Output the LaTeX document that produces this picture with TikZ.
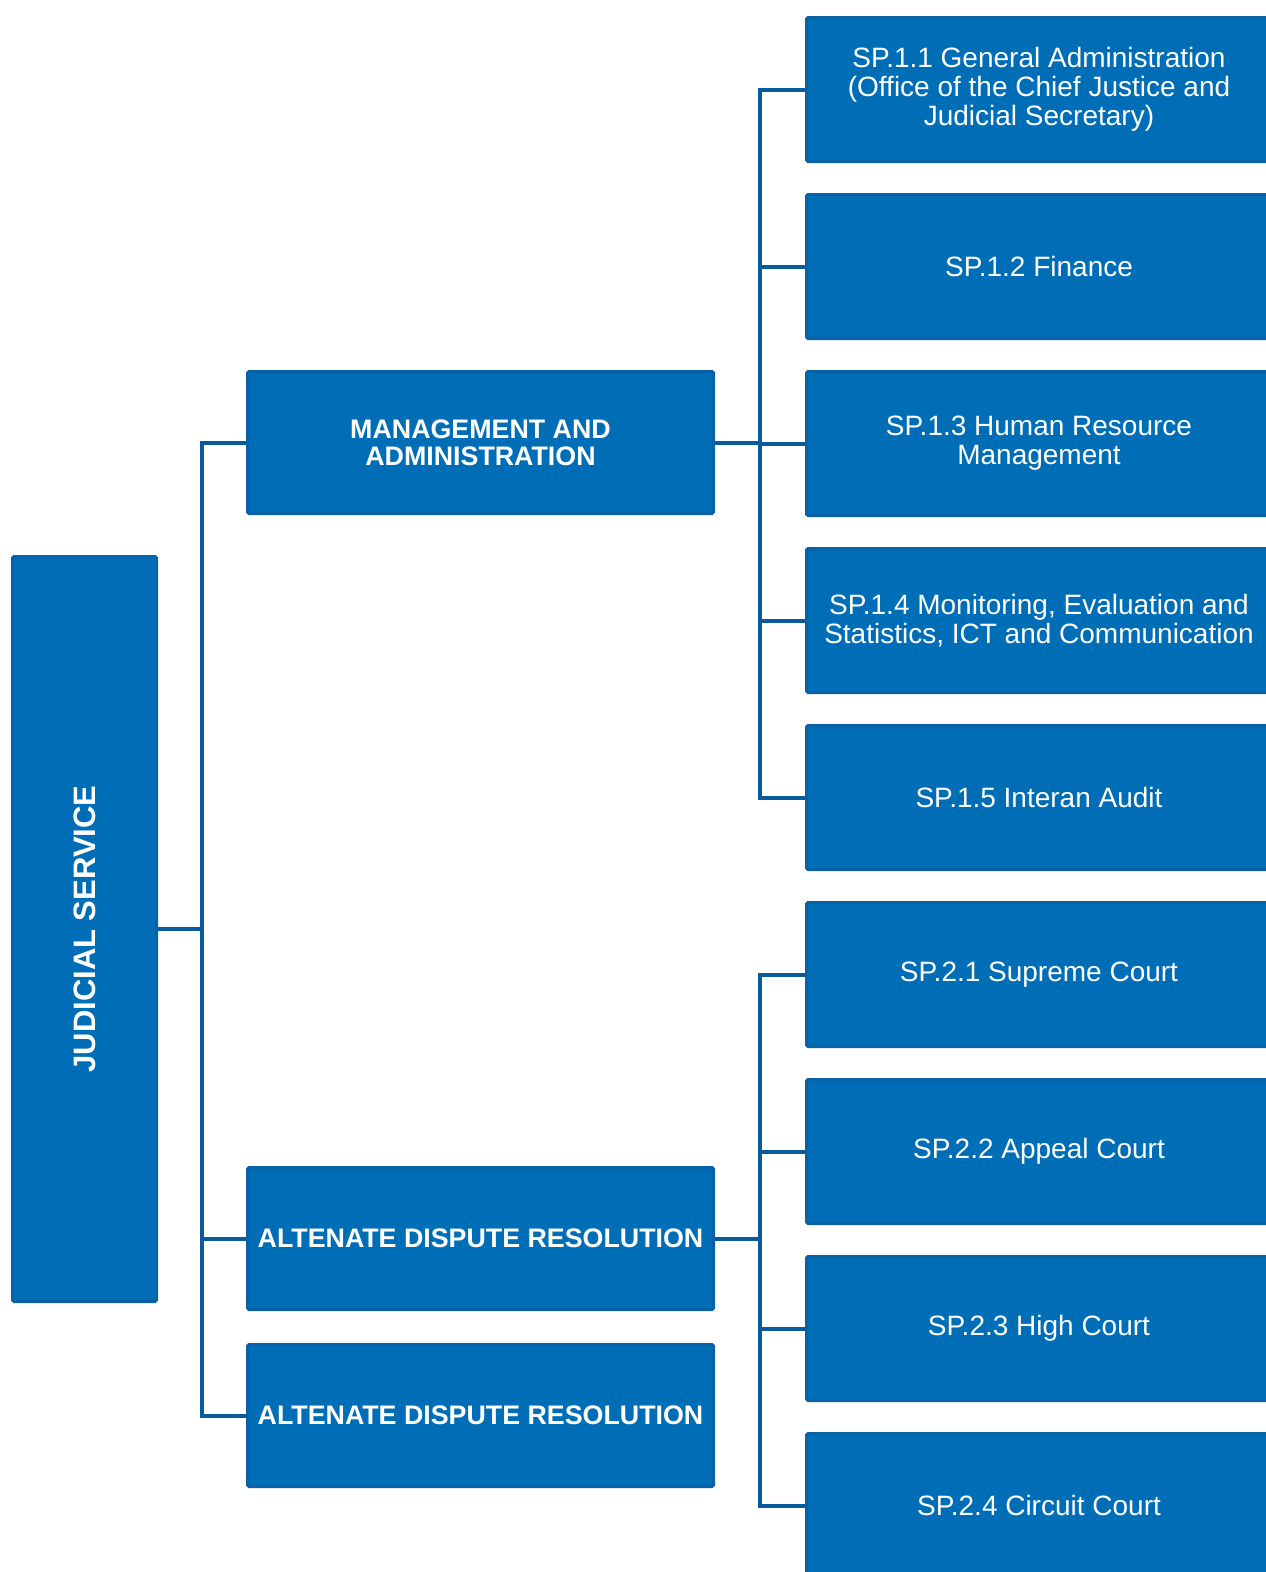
\documentclass[tikz,border=0pt]{standalone}
\usepackage{fontspec}
\setmainfont{Liberation Sans}
\usepackage{tikz}
\usetikzlibrary{arrows.meta}
\definecolor{boxblue}{HTML}{006EB7}
\definecolor{edgeblue}{HTML}{0A62A6}
\definecolor{lineblue}{HTML}{0A5B9C}
\tikzset{x=1pt,y=-1pt,
	box/.style={draw=edgeblue,fill=boxblue,line width=3pt,rounded corners=1.5pt,
		text=white,align=center,inner sep=2pt},
	subbox/.style={box,minimum width=465pt,minimum height=144pt,
		font=\fontsize{28}{29}\selectfont},
	progbox/.style={box,minimum width=466pt,minimum height=142pt,
		font=\bfseries\fontsize{26.8}{27}\selectfont},
	rootbox/.style={box,minimum width=144pt,minimum height=745pt,
		font=\bfseries\fontsize{31}{32}\selectfont},
	link/.style={draw=lineblue,line width=4pt}}

\begin{document}
\begin{tikzpicture}
		\clip (0,0) rectangle (1266,1572);
		\fill[white] (0,0) rectangle (1266,1572);
		\begin{scope}[every node/.style={rootbox}]
			\node (root) at (84.5,929) {\rotatebox{90}{JUDICIAL SERVICE}};
		\end{scope}
		\begin{scope}[every node/.style={progbox}]
			\node (ma) at (480.5,442.5) {MANAGEMENT AND\\ADMINISTRATION};
			\node (adr1) at (480.5,1238.5) {ALTENATE DISPUTE RESOLUTION};
			\node (adr2) at (480.5,1415.5) {ALTENATE DISPUTE RESOLUTION};
		\end{scope}
		\begin{scope}[every node/.style={subbox}]
			\node (sp11) at (1039,89.5) {SP.1.1 General Administration\\(Office of the Chief Justice and\\Judicial Secretary)};
			\node (sp12) at (1039,266.5) {SP.1.2 Finance};
			\node (sp13) at (1039,443.5) {SP.1.3 Human Resource\\Management};
			\node (sp14) at (1039,620.5) {SP.1.4 Monitoring, Evaluation and\\Statistics, ICT and Communication};
			\node (sp15) at (1039,797.5) {SP.1.5 Interan Audit};
			\node (sp21) at (1039,974.5) {SP.2.1 Supreme Court};
			\node (sp22) at (1039,1151.5) {SP.2.2 Appeal Court};
			\node (sp23) at (1039,1328.5) {SP.2.3 High Court};
			\node (sp24) at (1039,1505.5) {SP.2.4 Circuit Court};
		\end{scope}
		\begin{scope}[every path/.style={link}]
			\coordinate (lefttrunk) at (202,0);
			\coordinate (righttrunk) at (760,0);
			% left trunk
			\path (root.east) edge (root.east -| lefttrunk);
			\draw (ma.west) -| (lefttrunk |- adr2.west) -- (adr2.west);
			\path (adr1.west) edge (adr1.west -| lefttrunk);
			% first group
			\draw (sp11.west) -| (righttrunk |- sp15.west) -- (sp15.west);
			\path (sp12.west) edge (sp12.west -| righttrunk);
			\path (sp14.west) edge (sp14.west -| righttrunk);
			\path (ma.east) edge (ma.east -| righttrunk);
			\path (sp13.west) edge (sp13.west -| righttrunk);
			% second group
			\draw (sp21.west) -| (righttrunk |- sp24.west) -- (sp24.west);
			\path (sp22.west) edge (sp22.west -| righttrunk);
			\path (sp23.west) edge (sp23.west -| righttrunk);
			\path (adr1.east) edge (adr1.east -| righttrunk);
		\end{scope}
	\end{tikzpicture}
\end{document}
